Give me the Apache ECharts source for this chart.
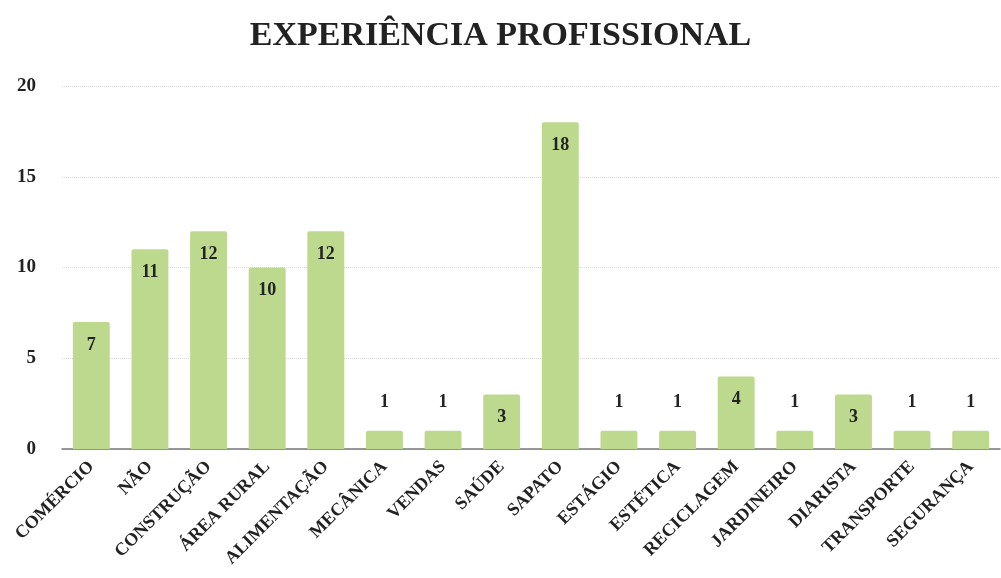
<!DOCTYPE html>
<html>
<head>
<meta charset="utf-8">
<script src="https://cdn.jsdelivr.net/npm/echarts@6/dist/echarts.min.js"></script>
<style>
  html, body { margin: 0; padding: 0; background: #fff; }
  #chart { width: 1001px; height: 578px; }
</style>
</head>
<body>
<div id="chart"></div>
<script>
// Work experience categories and respondent counts
const categories = ['COMÉRCIO', 'NÃO', 'CONSTRUÇÃO', 'ÁREA RURAL', 'ALIMENTAÇÃO', 'MECÂNICA', 'VENDAS', 'SAÚDE',
  'SAPATO', 'ESTÁGIO', 'ESTÉTICA', 'RECICLAGEM', 'JARDINEIRO', 'DIARISTA', 'TRANSPORTE', 'SEGURANÇA'];
const counts = [7, 11, 12, 10, 12, 1, 1, 3, 18, 1, 1, 4, 1, 3, 1, 1];
const yTicks = [0, 5, 10, 15, 20];

const serif = '"Liberation Serif", "DejaVu Serif", serif';
const barColor = '#bdd98e';
const textColor = '#222';

// Small bars carry their label above the bar, the rest inside the top
const barData = counts.map(v => ({
  value: v,
  label: v < 3
    ? { position: 'top', distance: 20 }
    : { position: 'insideTop', distance: 14 }
}));

const chart = echarts.init(document.getElementById('chart'), null, { renderer: 'canvas' });
chart.setOption({
  animation: false,
  backgroundColor: '#fff',
  title: {
    text: 'EXPERIÊNCIA PROFISSIONAL',
    left: 'center',
    top: 14,
    textStyle: { fontFamily: serif, fontWeight: 'bold', fontSize: 34, color: '#222' }
  },
  grid: { left: 62, right: 1, top: 86, bottom: 129, containLabel: false },
  xAxis: {
    type: 'category',
    data: categories,
    axisLine: { show: true, lineStyle: { color: '#777', width: 1.5 } },
    axisTick: { show: false },
    axisLabel: {
      interval: 0,
      rotate: 45,
      margin: 15,
      fontFamily: serif,
      fontWeight: 'bold',
      fontSize: 18,
      color: textColor
    }
  },
  yAxis: {
    type: 'value',
    min: yTicks[0],
    max: yTicks[yTicks.length - 1],
    interval: 5,
    axisLine: { show: false },
    axisTick: { show: false },
    axisLabel: {
      margin: 26,
      fontFamily: serif,
      fontWeight: 'bold',
      fontSize: 19,
      color: textColor
    },
    splitLine: { lineStyle: { color: '#d8d8d8', type: 'dotted', width: 1 } }
  },
  series: [{
    type: 'bar',
    data: barData,
    barCategoryGap: '37%',
    itemStyle: { color: barColor, borderRadius: [2, 2, 0, 0] },
    label: {
      show: true,
      fontFamily: serif,
      fontWeight: 'bold',
      fontSize: 18,
      color: textColor
    }
  }]
});
</script>
</body>
</html>
